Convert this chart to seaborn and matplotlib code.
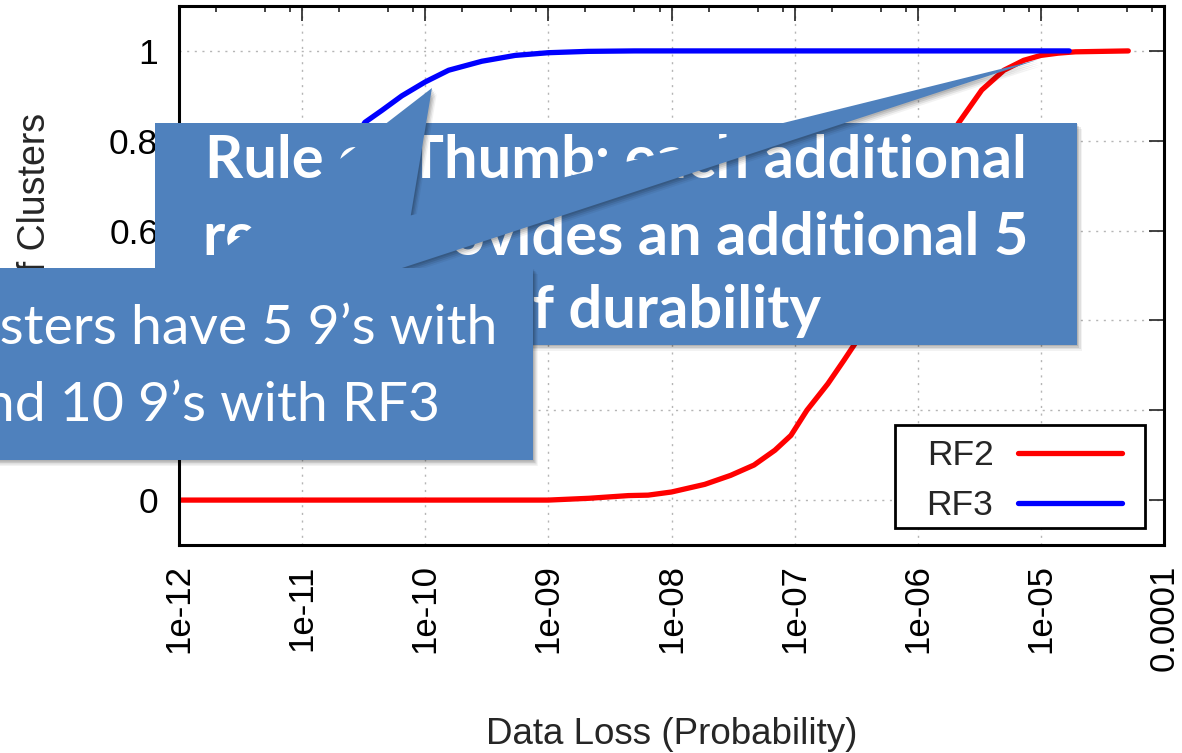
import numpy as np
import pandas as pd
import matplotlib
matplotlib.use("Agg")
import matplotlib.pyplot as plt
import seaborn as sns
from matplotlib.patches import Polygon, Rectangle
from matplotlib.transforms import Affine2D
from matplotlib.lines import Line2D
from matplotlib.ticker import FixedLocator, NullFormatter

# ---------------- data ----------------
series_names = ["RF2", "RF3"]
series_colors = ["#ff0000", "#0000ff"]

rf2_log10_p = [-12.0, -9.0, -8.67, -8.35, -8.19, -8.0, -7.73, -7.52, -7.33, -7.16,
               -7.03, -6.9, -6.73, -6.6, -6.52, -6.4, -6.2, -6.0, -5.85, -5.75,
               -5.67, -5.48, -5.30, -5.14, -5.0, -4.86, -4.72, -4.29]
rf2_fraction = [0.0, 0.0, 0.004, 0.01, 0.011, 0.018, 0.035, 0.055, 0.078, 0.111,
                0.144, 0.2, 0.259, 0.311, 0.344, 0.396, 0.51, 0.635, 0.73, 0.795,
                0.839, 0.913, 0.957, 0.979, 0.99, 0.995, 0.998, 1.0]

rf3_log10_p = [-12.0, -11.7, -11.4, -11.1, -10.8, -10.6, -10.49, -10.35, -10.19,
               -10.0, -9.81, -9.54, -9.27, -9.0, -8.68, -8.3, -4.77]
rf3_fraction = [0.15, 0.25, 0.38, 0.55, 0.70, 0.79, 0.841, 0.868, 0.90,
                0.931, 0.957, 0.977, 0.99, 0.996, 0.999, 1.0, 1.0]

x_tick_exponents = [-12, -11, -10, -9, -8, -7, -6, -5, -4]
x_tick_labels = ["1e-12", "1e-11", "1e-10", "1e-09", "1e-08", "1e-07",
                 "1e-06", "1e-05", "0.0001"]
x_minor_mantissas = [2, 5, 8]
y_ticks = [0.0, 0.2, 0.4, 0.6, 0.8, 1.0]
y_tick_labels = ["0", "0.2", "0.4", "0.6", "0.8", "1"]

x_label = "Data Loss (Probability)"
y_label = "Fraction of Clusters"

rule_lines = ["Rule of Thumb: each additional",
              "replica provides an additional 5",
              "9\u2019s of durability"]
most_lines = ["Most clusters have 5 9\u2019s with",
              "RF2 and 10 9\u2019s with RF3"]

# ---------------- figure ----------------
W, H = 1182, 753
sns.set_theme(style="white")
plt.rcParams['font.family'] = ['Liberation Sans', 'DejaVu Sans']

fig = plt.figure(figsize=(W / 100, H / 100), dpi=100)
fig.patch.set_facecolor("white")
ax = fig.add_axes([179 / W, 1 - 545 / H, (1164 - 179) / W, (545 - 6) / H])
pix = Affine2D().scale(1 / W, -1 / H).translate(0, 1) + fig.transFigure

df = pd.concat([
    pd.DataFrame({"p": 10.0 ** np.array(rf2_log10_p), "frac": rf2_fraction,
                  "series": series_names[0]}),
    pd.DataFrame({"p": 10.0 ** np.array(rf3_log10_p), "frac": rf3_fraction,
                  "series": series_names[1]}),
], ignore_index=True)

palette = dict(zip(series_names, series_colors))
LW = 3.8
sns.lineplot(data=df, x="p", y="frac", hue="series", palette=palette,
             estimator=None, sort=False, linewidth=LW, ax=ax, legend=False)

ax.set_xscale("log")
ax.set_xlim(1e-12, 1e-4)
ax.set_ylim(-0.1, 1.1)

ax.set_xticks([10.0 ** e for e in x_tick_exponents])
ax.set_xticklabels(x_tick_labels, rotation=90, fontsize=25)
ax.xaxis.set_minor_locator(FixedLocator(
    [m * 10.0 ** e for e in x_tick_exponents[:-1] for m in x_minor_mantissas]))
ax.xaxis.set_minor_formatter(NullFormatter())
ax.set_yticks(y_ticks)
ax.set_yticklabels(y_tick_labels, fontsize=25.5)
ax.yaxis.set_minor_locator(FixedLocator([]))

ax.tick_params(axis="both", which="both", direction="in", top=True, right=True,
               color="#222222", labelcolor="black")
ax.tick_params(axis="both", which="major", length=11, width=1.2)
ax.tick_params(axis="both", which="minor", length=4.5, width=1.2)
ax.tick_params(axis="x", which="major", pad=14)
ax.tick_params(axis="y", which="major", pad=15)

ax.grid(True, which="major", color="#b5b5b5", linestyle=(0, (1.5, 4)), linewidth=1.0)
for s in ax.spines.values():
    s.set_visible(True)
    s.set_color("black")
    s.set_linewidth(2.2)

ax.set_xlabel(x_label, fontsize=26.5)
ax.set_ylabel(y_label, fontsize=27)
ax.xaxis.set_label_coords(0.5, (545 - 717) / 539)
ax.yaxis.set_label_coords((53 - 179) / 985, 0.5)

# legend: gnuplot-style key (text first), framed box
handles = [Line2D([], [], color=c, lw=LW) for c in series_colors]
leg = ax.legend(handles, series_names, loc="lower right",
                bbox_to_anchor=((1122 - 179) / 985, (545 - 522) / 539),
                markerfirst=False, frameon=False, fontsize=25.5,
                handlelength=2.95, handletextpad=0.68, borderpad=0,
                labelspacing=0.48, borderaxespad=0)
leg.set_zorder(6)
ax.add_patch(Rectangle((895, 425), 250, 103, transform=pix, facecolor="white",
                       edgecolor="black", linewidth=2.0, zorder=5.5, clip_on=False))

# ---------------- callouts (figure pixel coordinates, y downwards) ----------------
box_color = "#4f81bd"
cfont = ["Lato", "DejaVu Sans"]
renderer = fig.canvas.get_renderer()


def text_width(text, weight, size):
    t = fig.text(0, 0, text, fontsize=size, family=cfont, weight=weight)
    w = t.get_window_extent(renderer).width
    t.remove()
    return w


def fit_size(text, weight, target_px, base=40.0):
    return base * target_px / text_width(text, weight, base)


def add_shape(verts, z):
    for k, a in ((1.5, 0.10), (3.0, 0.10), (4.5, 0.08), (6.0, 0.05)):
        sh = Polygon([(x + k * 0.8, y + k) for x, y in verts], closed=True,
                     transform=pix, facecolor="black", edgecolor="none",
                     alpha=a, zorder=z - 0.5)
        fig.add_artist(sh)
    p = Polygon(verts, closed=True, transform=pix, facecolor=box_color,
                edgecolor="none", zorder=z)
    fig.add_artist(p)


# upper callout: rule of thumb
ux0, uy0, ux1, uy1 = 155, 123, 1077, 345
add_shape([(ux0, uy0), (ux1, uy0), (ux1, uy1), (ux0, uy1)], 10)
fs_up = fit_size(rule_lines[0], "bold", 822)
for line, base_y in zip(rule_lines, [178, 255, 328]):
    fig.text(616, base_y, line, transform=pix, ha="center", va="baseline",
             fontsize=fs_up, family=cfont, weight="bold", color="white", zorder=11)

# lower callout with two pointers
lx0, ly0, lx1, ly1 = -230, 268, 533, 460
tipA = (432, 88)
tipB = (1037, 60)
bL, bR = 199, 402
ya = np.linspace(tipA[1], ly0, 2000)
xa = tipA[0] + (bR - tipA[0]) * (ya - tipA[1]) / (ly0 - tipA[1])
xb = tipB[0] + (bL - tipB[0]) * (ya - tipB[1]) / (ly0 - tipB[1])
i = int(np.argmin(np.abs(xa - xb)))
cross = (float(xa[i]), float(ya[i]))
lower_verts = [(lx0, ly0), (bL, ly0), tipA, cross, tipB, (bR, ly0),
               (lx1, ly0), (lx1, ly1), (lx0, ly1)]
add_shape(lower_verts, 13)

fs_low = fit_size("sters have 5 9\u2019s with", "normal", 497)
w_full = text_width(most_lines[0], "normal", fs_low)
cx = 497 - w_full / 2
for line, base_y in zip(most_lines, [344, 421]):
    fig.text(cx, base_y, line, transform=pix, ha="center", va="baseline",
             fontsize=fs_low, family=cfont, weight="normal", color="white", zorder=14)

fig.savefig("out.png", dpi=100, facecolor="white")
